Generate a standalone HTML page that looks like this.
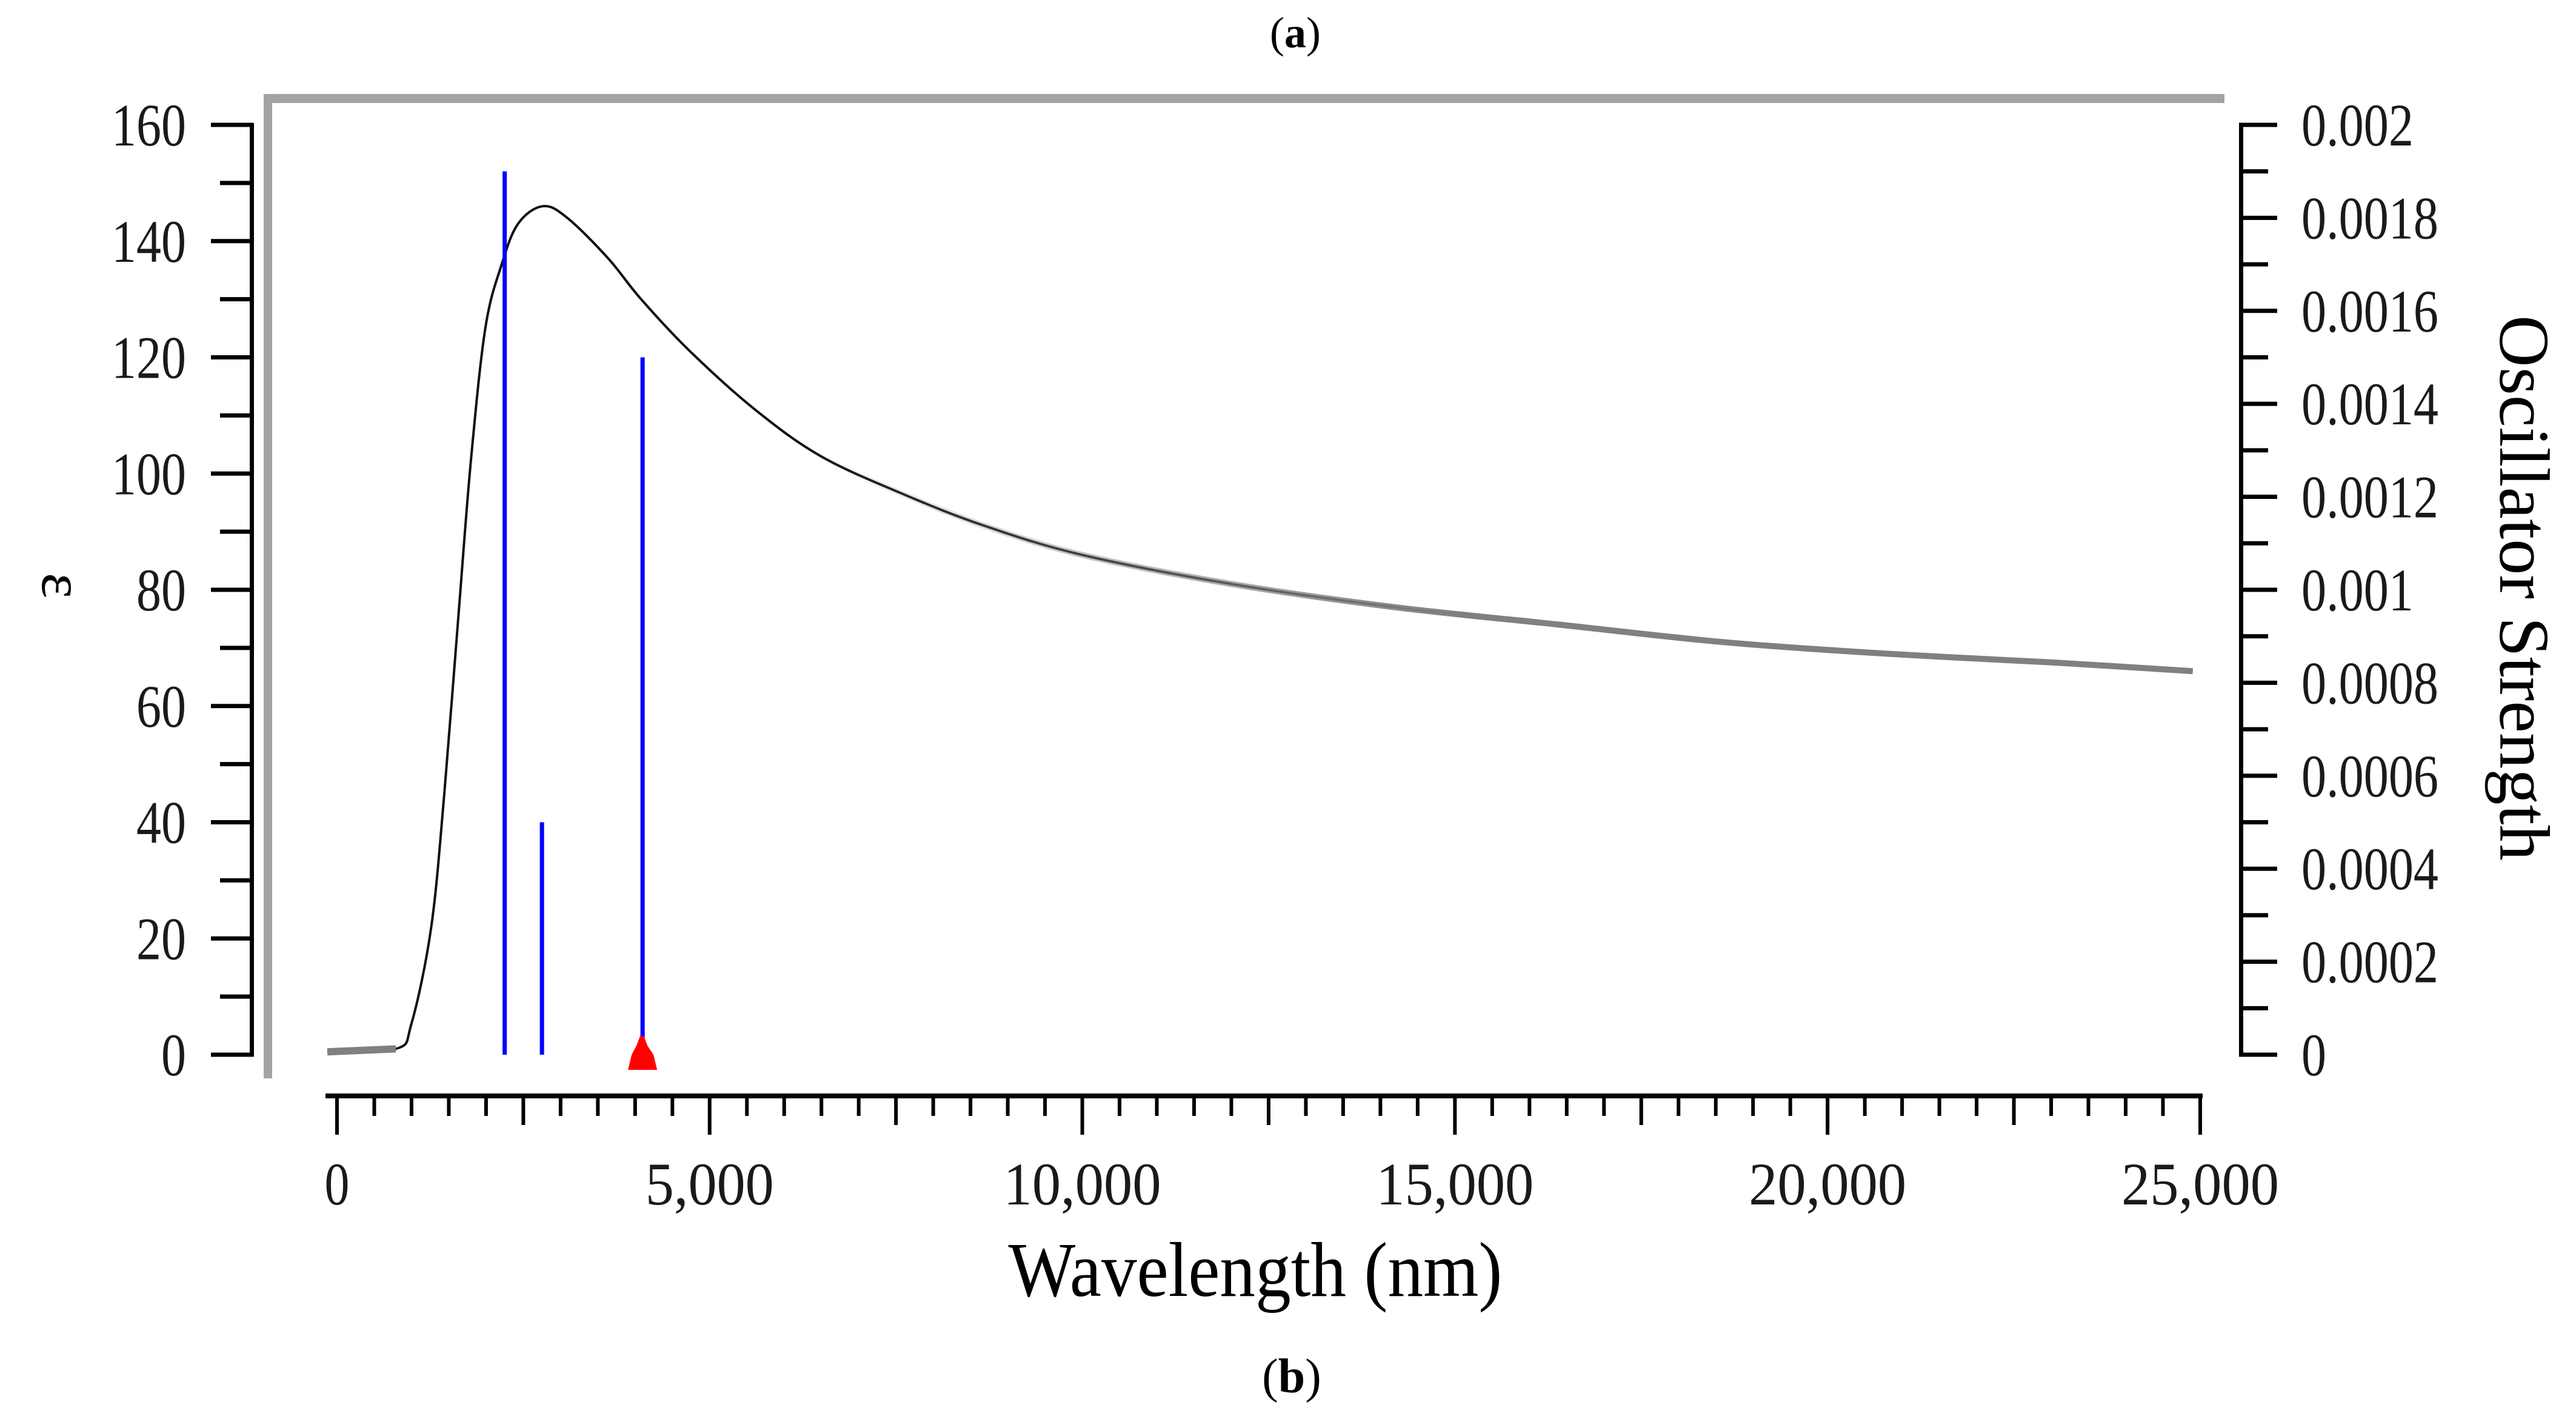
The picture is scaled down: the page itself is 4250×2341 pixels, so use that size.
<!DOCTYPE html>
<html><head><meta charset="utf-8"><style>
html,body{margin:0;padding:0;background:#fff;}
svg{display:block;font-family:"Liberation Serif",serif;}
</style></head><body>
<svg id="chart" width="4250" height="2341" viewBox="0 0 4250 2341" xmlns="http://www.w3.org/2000/svg">
<defs>
<linearGradient id="tailGrad" gradientUnits="userSpaceOnUse" x1="1300" y1="0" x2="2400" y2="0">
<stop offset="0" stop-color="#808080" stop-opacity="0"/>
<stop offset="1" stop-color="#808080" stop-opacity="1"/>
</linearGradient>
</defs>
<text x="2137" y="78" font-size="72" text-anchor="middle">(<tspan font-weight="bold">a</tspan>)</text>
<rect x="435" y="155" width="3235" height="15" fill="#a3a3a3"/>
<rect x="435" y="155" width="14" height="1624" fill="#a3a3a3"/>
<g id="plot"></g>
<text x="2071" y="2138" font-size="128" text-anchor="middle" textLength="815" lengthAdjust="spacingAndGlyphs">Wavelength (nm)</text>
<text transform="translate(70,966) rotate(90)" font-size="100" text-anchor="middle">ε</text>
<text transform="translate(4125,970) rotate(90)" font-size="118" text-anchor="middle" textLength="900" lengthAdjust="spacingAndGlyphs">Oscillator Strength</text>
<text x="2131" y="2297" font-size="80" text-anchor="middle">(<tspan font-weight="bold">b</tspan>)</text>
</svg>
<script>
const curveNm = [-130, 790, 1000, 1265, 1440, 1620, 1795, 1990, 2210, 2430, 2760, 3090, 3640, 4080, 4740, 5610, 6490, 7590, 8690, 10000, 12000, 14200, 16400, 18600, 20800, 23000, 24900];
const curveEps = [0.5, 1, 5.4, 22, 45, 74, 102, 125, 136, 143, 146, 144, 137, 130, 121, 111, 103, 96.5, 91, 86, 81, 77, 74, 71, 69, 67.5, 66];
const stickNm = [2250, 2750, 4100];
const stickF = [0.0019, 0.0005, 0.0015];
const markerNm = [4100];
const xTickLabels = ["0", "5,000", "10,000", "15,000", "20,000", "25,000"];
const xTickValues = [0, 5000, 10000, 15000, 20000, 25000];
const leftTickValues = [0, 20, 40, 60, 80, 100, 120, 140, 160];
const rightTickValues = [0, 0.0002, 0.0004, 0.0006, 0.0008, 0.001, 0.0012, 0.0014, 0.0016, 0.0018, 0.002];
const rightTickLabels = ["0", "0.0002", "0.0004", "0.0006", "0.0008", "0.001", "0.0012", "0.0014", "0.0016", "0.0018", "0.002"];

const NS = "http://www.w3.org/2000/svg";
const g = document.getElementById('plot');
const X0 = 556, X1 = 3630, Y0 = 1740, Y1 = 206;
const sx = v => X0 + (v / 25000) * (X1 - X0);
const syL = v => Y0 - (v / 160) * (Y0 - Y1);
const syR = v => Y0 - (v / 0.002) * (Y0 - Y1);
function mk(tag, attrs) { const e = document.createElementNS(NS, tag); for (const k in attrs) e.setAttribute(k, attrs[k]); g.appendChild(e); return e; }

let e = mk('rect', {x: 412, y: Y1 - 3, width: 7, height: Y0 - Y1 + 6, fill: '#000'});


for (let v = 0; v <= 160; v += 10) {
  const major = v % 20 === 0;
  const t = mk('rect', {x: major ? 348 : 363, y: syL(v) - 3.5, width: major ? 70 : 55, height: 7, fill: '#000'});
  
  
}
leftTickValues.forEach(v => {
  const t = mk('text', {x: 307, y: syL(v) + 34, 'font-size': 100, 'text-anchor': 'end', fill: '#1a1a1a'});
  t.textContent = String(v);
  t.setAttribute('textLength', String(v).length * 41);
  t.setAttribute('lengthAdjust', 'spacingAndGlyphs');
  
  
});

e = mk('rect', {x: 3694, y: Y1 - 3, width: 7, height: Y0 - Y1 + 6, fill: '#000'});


for (let i = 0; i <= 20; i++) {
  const v = i * 0.0001, major = i % 2 === 0;
  const t = mk('rect', {x: 3694, y: syR(v) - 3.5, width: major ? 63 : 48, height: 7, fill: '#000'});
  
  
}
rightTickValues.forEach((v, i) => {
  const lab = rightTickLabels[i];
  const t = mk('text', {x: 3797, y: syR(v) + 34, 'font-size': 100, fill: '#1a1a1a'});
  t.textContent = lab;
  t.setAttribute('textLength', lab.length * 41 - (lab.includes('.') ? 20 : 0));
  t.setAttribute('lengthAdjust', 'spacingAndGlyphs');
  
  
});

e = mk('rect', {x: 537, y: 1804, width: X1 - 537 + 4, height: 8, fill: '#000'});


for (let v = 0; v <= 25000; v += 500) {
  const len = v % 5000 === 0 ? 64 : (v % 2500 === 0 ? 48 : 33);
  const t = mk('rect', {x: sx(v) - 3, y: 1808, width: 6, height: len, fill: '#000'});
  
  
}
xTickValues.forEach((v, i) => {
  const lab = xTickLabels[i];
  const t = mk('text', {x: sx(v), y: 1987, 'font-size': 100, 'text-anchor': 'middle', fill: '#1a1a1a'});
  t.textContent = lab;
  t.setAttribute('textLength', lab.length === 1 ? 41 : lab.replace(',', '').length * 48 + 20);
  t.setAttribute('lengthAdjust', 'spacingAndGlyphs');
  
  
});

const pts = curveNm.map((v, i) => [sx(v), syL(curveEps[i])]);
let d = 'M' + pts[0][0].toFixed(1) + ' ' + pts[0][1].toFixed(1);
for (let i = 0; i < pts.length - 1; i++) {
  const p0 = pts[i - 1] || pts[i], p1 = pts[i], p2 = pts[i + 1], p3 = pts[i + 2] || p2;
  const c1 = [p1[0] + (p2[0] - p0[0]) / 6, p1[1] + (p2[1] - p0[1]) / 6];
  const c2 = [p2[0] - (p3[0] - p1[0]) / 6, p2[1] - (p3[1] - p1[1]) / 6];
  d += ` C${c1[0].toFixed(1)} ${c1[1].toFixed(1)} ${c2[0].toFixed(1)} ${c2[1].toFixed(1)} ${p2[0].toFixed(1)} ${p2[1].toFixed(1)}`;
}
const curve = mk('path', {d: d, fill: 'none', stroke: '#111', 'stroke-width': 4, 'stroke-linejoin': 'round'});


const tail = mk('path', {d: d, fill: 'none', stroke: 'url(#tailGrad)', 'stroke-width': 10, 'stroke-linejoin': 'round'});


const base = mk('line', {x1: sx(curveNm[0]), y1: syL(curveEps[0]), x2: sx(curveNm[1]), y2: syL(curveEps[1]), stroke: '#808080', 'stroke-width': 12});



stickNm.forEach((v, i) => {
  const s = mk('rect', {x: sx(v) - 3.5, y: syR(stickF[i]), width: 7, height: Y0 - syR(stickF[i]), fill: '#0000ff'});
  
  
});
markerNm.forEach(v => {
  const cx = sx(v);
  const m = mk('polygon', {points: `${cx - 24},1765 ${cx + 24},1765 ${cx + 18},1740 ${cx + 8},1725 ${cx + 2},1709 ${cx - 4},1709 ${cx - 10},1725 ${cx - 18},1740`, fill: '#ff0000'});
  
  
});
</script>
</body></html>
